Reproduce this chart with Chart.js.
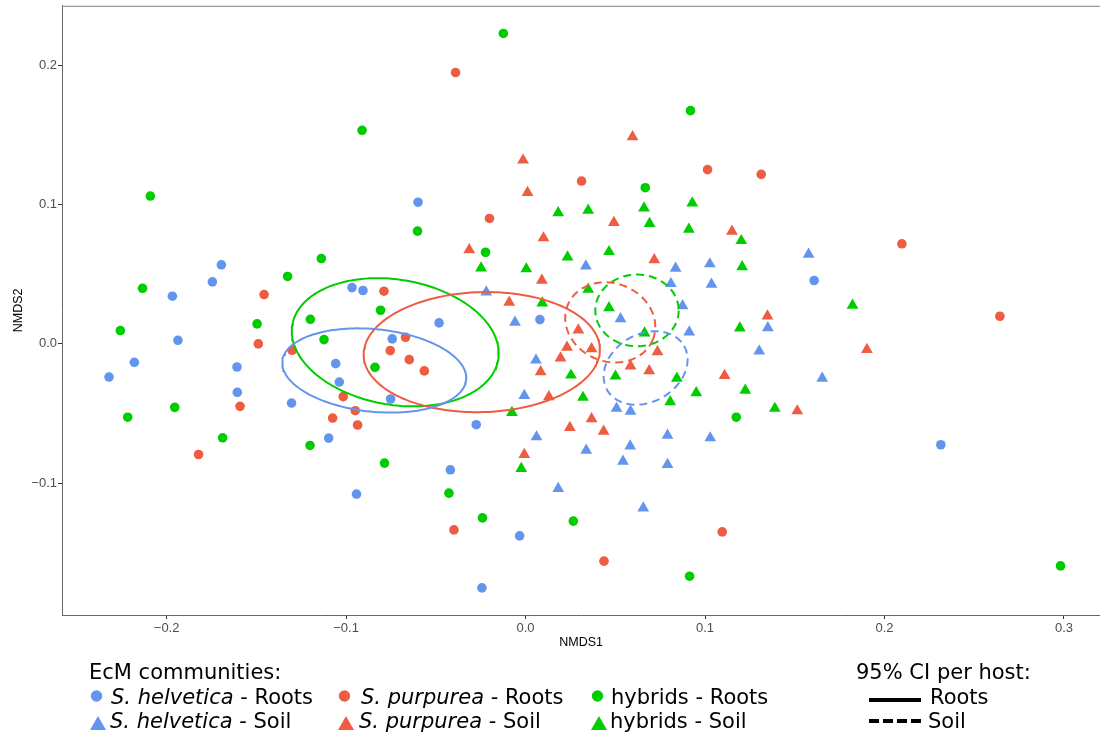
<!DOCTYPE html>
<html>
<head>
<meta charset="utf-8">
<script src="https://cdn.jsdelivr.net/npm/chart.js@4.4.1/dist/chart.umd.min.js"></script>
<style>
  html, body { margin: 0; padding: 0; background: #fff; }
  #wrap { position: relative; width: 1100px; height: 733px; overflow: hidden; background: #fff; }
  #chart { position: absolute; left: 0; top: -3px; }
  .lg { position: absolute; font-family: "DejaVu Sans", sans-serif; font-size: 21px; line-height: 24px; color: #000; white-space: nowrap; }
  #marks { position: absolute; left: 0; top: 0; }
</style>
</head>
<body>
<div id="wrap">
  <canvas id="chart" width="1107" height="663"></canvas>
  <svg id="marks" width="1100" height="733"></svg>
  <div class="lg" style="left:89px;top:660px;">EcM communities:</div>
  <div class="lg" style="left:111px;top:685px;"><i>S. helvetica</i> - Roots</div>
  <div class="lg" style="left:110px;top:709px;"><i>S. helvetica</i> - Soil</div>
  <div class="lg" style="left:361px;top:685px;"><i>S. purpurea</i> - Roots</div>
  <div class="lg" style="left:359px;top:709px;"><i>S. purpurea</i> - Soil</div>
  <div class="lg" style="left:611px;top:685px;">hybrids - Roots</div>
  <div class="lg" style="left:610px;top:709px;">hybrids - Soil</div>
  <div class="lg" style="left:856px;top:660px;">95% CI per host:</div>
  <div class="lg" style="left:930px;top:685px;">Roots</div>
  <div class="lg" style="left:928px;top:709px;">Soil</div>
</div>
<script>
// NMDS site scores, one pair of arrays per host / compartment
const helvRootsX = [-0.2321,-0.2180,-0.1937,-0.1968,-0.1695,-0.1745,-0.1608,-0.1606,-0.1304,-0.0967,-0.0906,-0.0743,-0.1058,-0.1038,-0.0752,-0.0599,-0.0482,0.0080,-0.1097,-0.0942,-0.0275,-0.0419,-0.0033,-0.0243,0.1608,0.2314];
const helvRootsY = [-0.0238,-0.0132,0.0026,0.0343,0.0569,0.0446,-0.0166,-0.0348,-0.0425,0.0405,0.0384,0.0036,-0.0142,-0.0274,-0.0396,0.1019,0.0151,0.0175,-0.0677,-0.1080,-0.0581,-0.0905,-0.1380,-0.1754,0.0456,-0.0725];

const purpRootsX = [-0.0390,0.0312,0.1014,0.1313,0.2097,0.2643,-0.0201,-0.1457,-0.1489,-0.1301,-0.0789,-0.0669,-0.0754,-0.0648,-0.1016,-0.0949,-0.1075,-0.1591,-0.0564,-0.0936,-0.1822,-0.0399,0.0437,0.1096];
const purpRootsY = [0.1951,0.1171,0.1253,0.1219,0.0720,0.0199,0.0902,0.0355,0.0000,-0.0046,0.0379,0.0048,-0.0048,-0.0113,-0.0379,-0.0480,-0.0533,-0.0449,-0.0194,-0.0583,-0.0795,-0.1337,-0.1562,-0.1351];

const hybRootsX = [-0.2091,-0.0911,-0.0124,0.0919,0.0667,-0.0602,-0.0223,-0.2134,-0.2258,-0.1955,-0.2217,-0.1496,-0.1326,-0.1138,-0.1199,-0.1123,-0.0808,-0.0839,-0.1688,-0.1201,-0.0786,-0.0427,-0.0240,0.0266,0.0914,0.1174,0.2981];
const hybRootsY = [0.1063,0.1536,0.2232,0.1677,0.1123,0.0811,0.0659,0.0400,0.0096,-0.0456,-0.0527,0.0144,0.0485,0.0614,0.0177,0.0031,0.0242,-0.0168,-0.0675,-0.0730,-0.0857,-0.1073,-0.1251,-0.1274,-0.1670,-0.0527,-0.1596];

const helvSoilX = [0.0336,-0.0219,-0.0059,0.0529,0.0836,0.0810,0.1027,0.1036,0.0875,0.0912,0.0058,-0.0007,0.0507,0.0585,0.1577,0.1350,0.1302,0.1653,0.0061,0.0338,0.0583,0.0543,0.0791,0.1029,0.0791,0.0182,0.0656];
const helvSoilY = [0.0560,0.0373,0.0155,0.0181,0.0544,0.0433,0.0575,0.0428,0.0274,0.0085,-0.0117,-0.0371,-0.0464,-0.0484,0.0644,0.0116,-0.0052,-0.0248,-0.0669,-0.0765,-0.0734,-0.0844,-0.0657,-0.0676,-0.0868,-0.1040,-0.1180];

const purpSoilX = [0.0596,-0.0014,0.0011,0.0492,0.0100,-0.0314,0.1150,0.0717,0.0091,-0.0091,0.0294,0.0231,0.0368,0.0195,0.0084,0.0585,0.0689,0.0735,0.0130,0.1109,0.0368,0.1348,0.1902,0.1514,0.0247,0.0435,-0.0007];
const purpSoilY = [0.1489,0.1321,0.1088,0.0872,0.0762,0.0677,0.0810,0.0605,0.0457,0.0299,0.0099,-0.0025,-0.0035,-0.0102,-0.0201,-0.0160,-0.0194,-0.0057,-0.0381,-0.0227,-0.0539,0.0200,-0.0040,-0.0482,-0.0601,-0.0628,-0.0796];

const hybSoilX = [0.0182,0.0349,0.0660,0.0929,0.0691,0.0910,0.1202,0.0234,0.0465,0.0004,-0.0248,0.0349,0.0093,0.0465,0.0663,0.1194,0.1207,0.0501,0.0253,0.0843,0.0951,0.1224,0.0320,0.0806,-0.0076,0.1822,0.1389,-0.0024];
const hybSoilY = [0.0942,0.0961,0.0976,0.1012,0.0865,0.0824,0.0742,0.0625,0.0663,0.0539,0.0546,0.0392,0.0294,0.0260,0.0078,0.0114,0.0555,-0.0232,-0.0225,-0.0248,-0.0352,-0.0333,-0.0385,-0.0417,-0.0493,0.0277,-0.0464,-0.0896];

// 95% confidence ellipses: centre and the two semi-axis vectors (data units)
// order: helvetica roots, purpurea roots, hybrids roots, helvetica soil, purpurea soil, hybrids soil
const ellipseCX = [-0.0843, -0.0244, -0.0726, 0.0669, 0.0472, 0.0621];
const ellipseCY = [-0.0191, -0.0059, 0.0012, -0.0173, 0.0155, 0.0241];
const ellipseAxisA = [[0.05120,-0.00675],[0.06582,0.00242],[0.05737,-0.01240],[0.02144,0.01580],[0.02378,-0.01217],[0.02323,0.0]];
const ellipseAxisB = [[-0.00233,-0.02952],[0.00095,-0.04313],[-0.00574,-0.04438],[0.00934,-0.02117],[-0.00800,-0.02611],[0.0,-0.02577]];

const xTicks = [-0.2, -0.1, 0.0, 0.1, 0.2, 0.3];
const yTicks = [-0.1, 0.0, 0.1, 0.2];

const BLUE = '#6495ED', RED = '#EE5C42', GREEN = '#00CD00';
const ellipseColors = [BLUE, RED, GREEN, BLUE, RED, GREEN];
const ellipseDashed = [false, false, false, true, true, true];

const zip = (xs, ys) => xs.map((x, i) => ({ x: x, y: ys[i] }));

function ellipseOutline(k) {
  const pts = [];
  const n = 160;
  for (let i = 0; i <= n; i++) {
    const t = 2 * Math.PI * i / n;
    const c = Math.cos(t), s = Math.sin(t);
    pts.push({
      x: ellipseCX[k] + ellipseAxisA[k][0] * c + ellipseAxisB[k][0] * s,
      y: ellipseCY[k] + ellipseAxisA[k][1] * c + ellipseAxisB[k][1] * s
    });
  }
  return pts;
}

function pointSet(label, xs, ys, color, style) {
  return {
    label: label,
    data: zip(xs, ys),
    pointStyle: style,
    pointRadius: style === 'triangle' ? 6.8 : 4.8,
    pointBackgroundColor: color,
    pointBorderWidth: 0,
    borderWidth: 0,
    showLine: false,
    order: 10
  };
}

const datasets = [
  pointSet('S. helvetica - Roots', helvRootsX, helvRootsY, BLUE, 'circle'),
  pointSet('S. purpurea - Roots', purpRootsX, purpRootsY, RED, 'circle'),
  pointSet('hybrids - Roots', hybRootsX, hybRootsY, GREEN, 'circle'),
  pointSet('S. helvetica - Soil', helvSoilX, helvSoilY, BLUE, 'triangle'),
  pointSet('S. purpurea - Soil', purpSoilX, purpSoilY, RED, 'triangle'),
  pointSet('hybrids - Soil', hybSoilX, hybSoilY, GREEN, 'triangle')
];
for (let k = 0; k < ellipseCX.length; k++) {
  datasets.push({
    label: 'ellipse ' + k,
    data: ellipseOutline(k),
    showLine: true,
    borderColor: ellipseColors[k],
    borderWidth: 2,
    borderDash: ellipseDashed[k] ? [8, 5] : [],
    pointRadius: 0,
    fill: false,
    tension: 0,
    order: 1
  });
}

const fmt = v => (v < 0 ? '\u2212' : '') + Math.abs(v).toFixed(1);
const tickFont = { family: 'Liberation Sans', size: 13 };
const titleFont = { family: 'Liberation Sans', size: 12.5 };

// light frame line along the top of the panel
const panelTop = {
  id: 'panelTop',
  afterDraw(chart) {
    const { ctx, chartArea: a } = chart;
    ctx.save();
    ctx.strokeStyle = '#9a9a9a';
    ctx.lineWidth = 1.3;
    ctx.beginPath();
    ctx.moveTo(a.left, a.top + 0.5);
    ctx.lineTo(a.right, a.top + 0.5);
    ctx.stroke();
    ctx.restore();
  }
};

new Chart(document.getElementById('chart'), {
  type: 'scatter',
  data: { datasets: datasets },
  plugins: [panelTop],
  options: {
    responsive: false,
    animation: false,
    events: [],
    layout: { padding: { top: 7, left: 0, right: 0, bottom: 0 } },
    plugins: { legend: { display: false }, tooltip: { enabled: false } },
    scales: {
      x: {
        type: 'linear',
        min: -0.2583, max: 0.3202,
        afterBuildTicks: s => { s.ticks = xTicks.map(v => ({ value: v })); },
        afterFit: s => { s.height = 45; },
        grid: { display: true, drawOnChartArea: false, drawTicks: true, tickLength: 4, tickColor: '#333', tickWidth: 1 },
        border: { display: true, color: '#666', width: 1 },
        ticks: { callback: v => fmt(v), font: tickFont, color: '#4d4d4d', padding: 2, maxRotation: 0, autoSkip: false },
        title: { display: true, text: 'NMDS1', font: titleFont, color: '#000', padding: { top: 0, bottom: 10 } }
      },
      y: {
        type: 'linear',
        min: -0.1949, max: 0.2431,
        afterBuildTicks: s => { s.ticks = yTicks.map(v => ({ value: v })); },
        afterFit: s => { s.width = 62; },
        grid: { display: true, drawOnChartArea: false, drawTicks: true, tickLength: 4, tickColor: '#333', tickWidth: 1 },
        border: { display: true, color: '#666', width: 1 },
        ticks: { callback: v => fmt(v), font: tickFont, color: '#4d4d4d', padding: 1, autoSkip: false },
        title: { display: true, text: 'NMDS2', font: titleFont, color: '#000', padding: { top: 11, bottom: 0 } }
      }
    }
  }
});

// legend keys
const svg = document.getElementById('marks');
const NS = 'http://www.w3.org/2000/svg';
function add(tag, attrs) {
  const el = document.createElementNS(NS, tag);
  for (const k in attrs) el.setAttribute(k, attrs[k]);
  svg.appendChild(el);
}
const keyCols = [{ x: 96.5, c: BLUE }, { x: 344.5, c: RED }, { x: 597.5, c: GREEN }];
keyCols.forEach(k => {
  add('circle', { cx: k.x, cy: 696, r: 5.7, fill: k.c });
  const tx = k.x + 1.5;
  add('polygon', { points: `${tx - 8},730 ${tx + 8},730 ${tx},716`, fill: k.c });
});
add('line', { x1: 869, y1: 700, x2: 921, y2: 700, stroke: '#000', 'stroke-width': 4 });
add('line', { x1: 869, y1: 721, x2: 921, y2: 721, stroke: '#000', 'stroke-width': 4, 'stroke-dasharray': '10 4' });
</script>
</body>
</html>
